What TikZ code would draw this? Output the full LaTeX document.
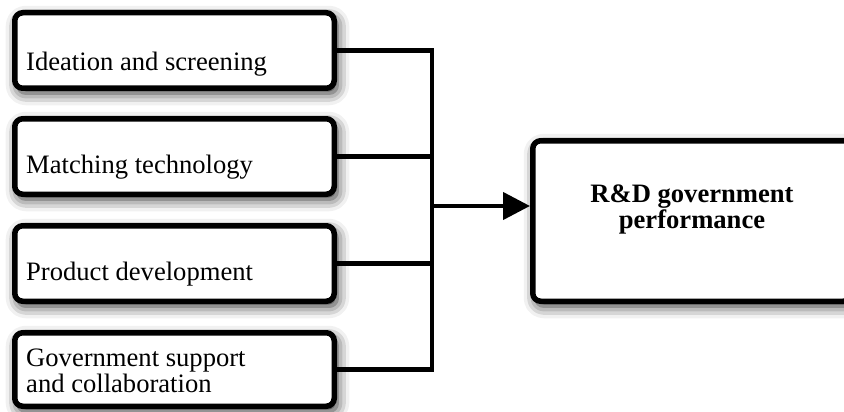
\documentclass[tikz,border=0pt]{standalone}
\usepackage{fontspec}
\setmainfont{Liberation Serif}
\usetikzlibrary{arrows.meta,shadows.blur}

\begin{document}
\begin{tikzpicture}[x=1pt,y=-1pt,
  box/.style={draw=black,line width=5.5pt,rounded corners=8pt,fill=white,
    blur shadow={shadow xshift=3pt,shadow yshift=-5pt,shadow blur radius=12pt,shadow opacity=85},
    minimum width=319.5pt,minimum height=75.5pt,inner sep=0pt},
  lbl/.style={inner sep=0pt,font=\fontsize{26.6}{21}\selectfont,align=left},
  conn/.style={line width=4.3pt}]
\clip (0,0) rectangle (844,412);
\node[box] (b1) at (174.5,50.5) {};
\node[box] (b2) at (174.5,156.5) {};
\node[box] (b3) at (174.5,263.5) {};
\node[box,minimum height=73.5pt] (b4) at (174.5,369.5) {};
\node[box,minimum width=318.5pt,minimum height=160.5pt] (rd) at (692,221) {};
\node[lbl,anchor=base west] (t1) at ([shift={(14,-20)}]b1.south west) {Ideation and screening};
\node[lbl,anchor=base west] (t2) at ([shift={(14,-24)}]b2.south west) {Matching technology};
\node[lbl,anchor=base west] (t3) at ([shift={(14,-24)}]b3.south west) {Product development};
\node[lbl,anchor=base west] (t4) at ([shift={(14,-17)}]b4.south west) {Government support\\and collaboration};
\node[lbl,anchor=base,align=center,font=\fontsize{26.6}{23}\selectfont\bfseries] (t5) at (692,228) {R\&D government\\performance};
\draw[conn] (b1.east) -- ++(95,0) |- (b4.east);
\draw[conn] (b2.east) -- ++(95,0);
\draw[conn] (b3.east) -- ++(95,0);
\coordinate (j) at (432,206);
\draw[conn,-{Triangle[length=27pt,width=27pt]}] (j) -- (j -| rd.west);
\end{tikzpicture}
\end{document}
